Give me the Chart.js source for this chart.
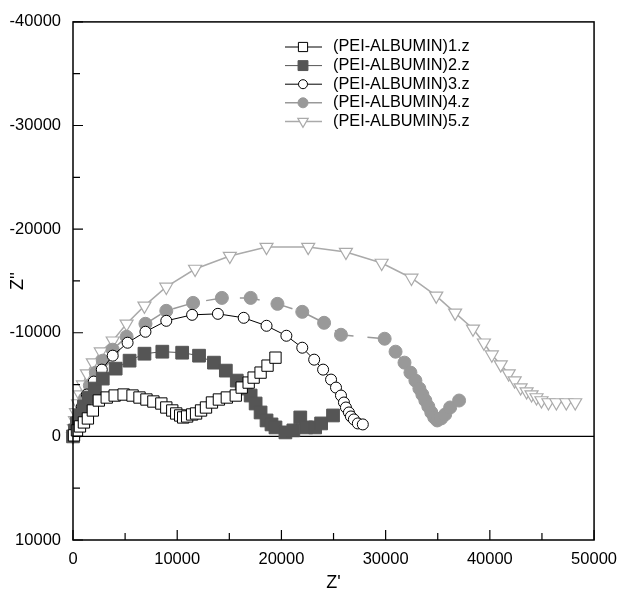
<!DOCTYPE html>
<html><head><meta charset="utf-8">
<script src="https://cdn.jsdelivr.net/npm/chart.js@4/dist/chart.umd.min.js"></script>
<style>html,body{margin:0;padding:0;background:#fff}</style>
</head><body>
<canvas id="c" width="627" height="603" style="width:627px;height:603px;display:block"></canvas>
<script>
const seriesNames = ['(PEI-ALBUMIN)1.z','(PEI-ALBUMIN)2.z','(PEI-ALBUMIN)3.z','(PEI-ALBUMIN)4.z','(PEI-ALBUMIN)5.z'];

const s1Re = [95,381,667,1048,1429,1905,2476,3238,4000,4857,5714,6381,7048,7714,8476,8952,9524,9905,10286,10571,10952,11429,11810,12286,12762,13333,14000,14762,15619,16190,16857,17333,18000,18667,19429];
const s1Im = [-96,-577,-962,-1346,-1731,-2500,-3461,-3750,-3942,-4038,-3942,-3750,-3558,-3365,-3173,-2788,-2500,-2211,-2019,-1827,-1923,-2115,-2211,-2500,-2788,-3269,-3558,-3750,-3942,-4711,-5192,-5673,-6154,-6827,-7596];

const s2Re = [0,190,381,667,1048,1524,2095,2857,4095,5429,6857,8571,10476,12095,13524,14667,15714,16190,16571,17048,17524,18000,18571,19048,19429,20381,21143,21810,22381,23238,23810,24952];
const s2Im = [0,-577,-1250,-2019,-2885,-3750,-4615,-5577,-6538,-7307,-7980,-8173,-8077,-7788,-7115,-6346,-5384,-4904,-4615,-3942,-3173,-2308,-1538,-1154,-865,-385,-577,-1827,-865,-865,-1250,-2019];

const s3Re = [0,190,476,857,1333,2000,2762,3810,5238,6952,8952,11429,13905,16381,18571,20476,22000,23143,24000,24762,25238,25714,26000,26190,26476,26667,26952,27333,27810];
const s3Im = [0,-769,-1731,-2885,-4038,-5288,-6442,-7788,-9038,-10096,-11153,-11730,-11826,-11442,-10673,-9711,-8557,-7404,-6442,-5481,-4711,-3942,-3269,-2788,-2308,-1923,-1635,-1250,-1154];

const s4Re = [0,190,476,762,1143,1619,2190,2857,3810,5143,6952,8952,11524,14286,17048,19619,22000,24095,25714,29905,30952,31810,32381,32857,33238,33524,33810,34095,34381,34667,34952,35333,35714,36190,37048];
const s4Im = [0,-577,-1442,-2404,-3654,-4904,-6154,-7307,-8365,-9615,-10865,-12115,-12884,-13365,-13365,-12788,-12019,-10961,-9807,-9423,-8173,-7115,-6154,-5384,-4615,-4038,-3461,-2885,-2308,-1827,-1538,-1731,-2115,-2788,-3461];

const s5Re = [0,95,190,286,476,667,952,1333,1905,2667,3810,5143,6857,8952,11714,15048,18571,22571,26190,29619,32476,34857,36667,38381,39429,40190,41048,41810,42381,42952,43524,44000,44476,44952,45619,46381,47333,48190];
const s5Im = [0,-769,-1538,-2308,-3173,-4038,-5000,-6057,-7115,-8173,-9230,-10865,-12596,-14423,-16153,-17403,-18269,-18269,-17788,-16730,-15288,-13557,-11923,-10384,-9038,-7884,-6923,-6057,-5384,-4711,-4327,-4038,-3750,-3461,-3269,-3269,-3269,-3269];

const xTickValues = [0,10000,20000,30000,40000,50000];
const yTickValues = [-40000,-30000,-20000,-10000,0,10000];

const pts = (re, im) => re.map((v, i) => ({x: v, y: im[i]}));

const styles = [
  {line:'#000', fill:'#fff', stroke:'#000', shape:'rect', r:8, lr:6.5, rot:0, lw:1, bw:1, dash:[]},
  {line:'#555', fill:'#555', stroke:'#555', shape:'rect', r:9, lr:7, rot:0, lw:1, bw:1, dash:[]},
  {line:'#000', fill:'#fff', stroke:'#000', shape:'circle', r:5.5, lr:4.5, rot:0, lw:1, bw:1, dash:[]},
  {line:'#999', fill:'#999', stroke:'#999', shape:'circle', r:6.5, lr:5, rot:0, lw:1.5, bw:1, dash:[20,14]},
  {line:'#aaa', fill:'#fff', stroke:'#aaa', shape:'triangle', r:7.5, lr:6, rot:180, lw:1.5, bw:1.2, dash:[]}
];
const allData = [pts(s1Re,s1Im), pts(s2Re,s2Im), pts(s3Re,s3Im), pts(s4Re,s4Im), pts(s5Re,s5Im)];

const datasets = allData.map((d, i) => ({
  label: seriesNames[i],
  data: d,
  showLine: true,
  borderColor: styles[i].line,
  borderWidth: styles[i].lw,
  borderDash: styles[i].dash,
  backgroundColor: styles[i].fill,
  pointStyle: styles[i].shape,
  pointRadius: styles[i].r,
  pointRotation: styles[i].rot,
  pointBackgroundColor: styles[i].fill,
  pointBorderColor: styles[i].stroke,
  pointBorderWidth: styles[i].bw,
  tension: 0,
  clip: false
}));

const FONT = "'Liberation Sans', Arial, Helvetica, sans-serif";

const framePlugin = {
  id: 'frame',
  beforeDatasetsDraw(chart) {
    const {ctx, chartArea: a, scales: {y}} = chart;
    const y0 = y.getPixelForValue(0);
    ctx.save();
    ctx.strokeStyle = '#000';
    ctx.lineWidth = 1.2;
    ctx.beginPath(); ctx.moveTo(a.left, y0); ctx.lineTo(a.right, y0); ctx.stroke();
    ctx.restore();
  },
  afterDraw(chart) {
    const {ctx, chartArea: a, scales: {x, y}} = chart;
    ctx.save();
    ctx.strokeStyle = '#000';
    ctx.lineWidth = 1.5;
    ctx.strokeRect(a.left, a.top, a.right - a.left, a.bottom - a.top);
    ctx.lineWidth = 1.2;
    ctx.beginPath();
    for (let v = -40000; v <= 10000; v += 5000) {
      const py = y.getPixelForValue(v);
      const len = v % 10000 === 0 ? 10 : 7;
      ctx.moveTo(a.left, py); ctx.lineTo(a.left + len, py);
    }
    for (let v = 0; v <= 50000; v += 5000) {
      const px = x.getPixelForValue(v);
      const len = v % 10000 === 0 ? 10 : 7;
      ctx.moveTo(px, a.bottom); ctx.lineTo(px, a.bottom - len);
    }
    ctx.stroke();

    // legend
    const lx0 = 285, lx1 = 322, mx = 303, tx = 333;
    ctx.font = '16.3px ' + FONT;
    ctx.textAlign = 'left';
    ctx.textBaseline = 'middle';
    seriesNames.forEach((name, i) => {
      const s = styles[i];
      const ly = 47 + i * 18.6;
      ctx.strokeStyle = s.line;
      ctx.lineWidth = s.lw;
      ctx.setLineDash([]);
      ctx.beginPath(); ctx.moveTo(lx0, ly); ctx.lineTo(lx1, ly); ctx.stroke();
      ctx.fillStyle = s.fill;
      ctx.strokeStyle = s.stroke;
      ctx.lineWidth = s.bw;
      Chart.helpers.drawPoint(ctx, {pointStyle: s.shape, radius: s.lr, rotation: s.rot, borderWidth: s.bw}, mx, ly);
      ctx.fillStyle = '#000';
      ctx.fillText(name, tx, ly);
    });
    ctx.restore();
  }
};

new Chart(document.getElementById('c'), {
  type: 'scatter',
  data: { datasets },
  options: {
    responsive: false,
    animation: false,
    devicePixelRatio: 1,
    layout: { padding: { top: 20, right: 29, bottom: 0, left: 0 } },
    plugins: { legend: { display: false }, tooltip: { enabled: false } },
    scales: {
      x: {
        type: 'linear', min: 0, max: 50000,
        border: { display: false },
        grid: { display: false, drawTicks: false },
        afterBuildTicks: s => { s.ticks = xTickValues.map(v => ({value: v})); },
        afterFit: s => { s.height = 63; },
        ticks: { color: '#000', font: { family: FONT, size: 16.5 }, padding: 10, maxRotation: 0, callback: v => String(v) },
        title: { display: true, text: "Z'", color: '#000', font: { family: FONT, size: 18 }, padding: { top: 0, bottom: 9 } }
      },
      y: {
        type: 'linear', min: -40000, max: 10000, reverse: true,
        border: { display: false },
        grid: { display: false, drawTicks: false },
        afterBuildTicks: s => { s.ticks = yTickValues.map(v => ({value: v})); },
        afterFit: s => { s.width = 73; },
        ticks: { color: '#000', font: { family: FONT, size: 16.5 }, padding: 12, callback: v => String(v) },
        title: { display: true, text: "Z''", color: '#000', font: { family: FONT, size: 18 }, padding: { top: 7, bottom: 0 } }
      }
    }
  },
  plugins: [framePlugin]
});
</script>
</body></html>
